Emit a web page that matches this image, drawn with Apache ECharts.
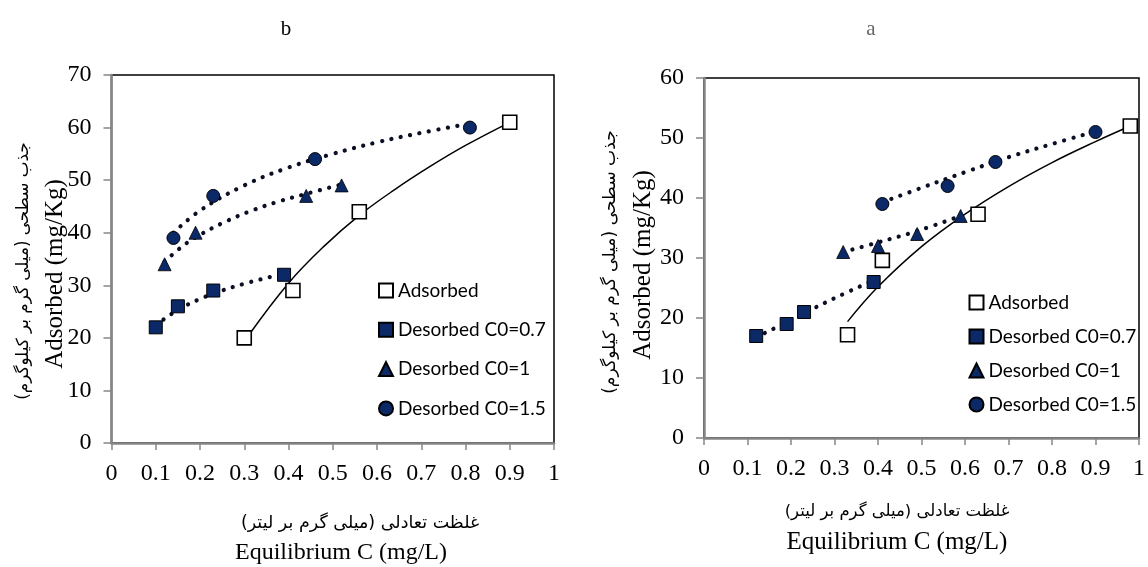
<!DOCTYPE html>
<html>
<head>
<meta charset="utf-8">
<script src="https://cdn.jsdelivr.net/npm/echarts@6/dist/echarts.min.js"></script>
<style>
  html, body { margin: 0; padding: 0; background: #fff; }
  #chart { width: 1148px; height: 567px; }
</style>
</head>
<body>
<div id="chart"></div>
<script>
// ---- panel b (left) ----
const bAdsorbed = [[0.3, 20], [0.41, 29], [0.56, 44], [0.9, 61]];
const bDes07 = [[0.1, 22], [0.15, 26], [0.23, 29], [0.39, 32]];
const bDes1 = [[0.12, 34], [0.19, 40], [0.44, 47], [0.52, 49]];
const bDes15 = [[0.14, 39], [0.23, 47], [0.46, 54], [0.81, 60]];
// trendlines
const bAdsorbedFit = [[0.31, 20.5], [0.4, 30.4], [0.48, 37.4], [0.56, 43.3], [0.64, 48.2], [0.72, 52.6], [0.8, 56.6], [0.9, 61]];
const bDes07Fit = [[0.1, 22.4], [0.15, 25.3], [0.2, 27.4], [0.25, 29], [0.3, 30.3], [0.35, 31.4], [0.39, 32.2]];
const bDes1Fit = [[0.12, 34.5], [0.16, 37.4], [0.2, 39.6], [0.26, 42.2], [0.32, 44.3], [0.38, 46], [0.44, 47.4], [0.52, 49.2]];
const bDes15Fit = [[0.14, 40], [0.2, 44.2], [0.3, 49], [0.4, 52.4], [0.5, 55], [0.6, 57.2], [0.7, 59], [0.8, 60.6]];

// ---- panel a (right) ----
const aAdsorbed = [[0.33, 17.2], [0.41, 29.6], [0.63, 37.3], [0.98, 52]];
const aDes07 = [[0.12, 17], [0.19, 19], [0.23, 21], [0.39, 26]];
const aDes1 = [[0.32, 31], [0.4, 32], [0.49, 34], [0.59, 37]];
const aDes15 = [[0.41, 39], [0.56, 42], [0.67, 46], [0.9, 51]];
const aAdsorbedFit = [[0.33, 19.4], [0.4, 25.2], [0.5, 31.9], [0.6, 37.3], [0.7, 41.9], [0.8, 45.9], [0.9, 49.4], [0.98, 52]];
const aDes07Fit = [[0.12, 16.8], [0.19, 19.3], [0.23, 20.8], [0.3, 23.3], [0.39, 26.3]];
const aDes1Fit = [[0.32, 31], [0.4, 32.6], [0.49, 34.5], [0.59, 37]];
const aDes15Fit = [[0.41, 39.3], [0.5, 41.7], [0.6, 44.3], [0.7, 46.8], [0.8, 49], [0.9, 51.1]];

const seriesNames = ['Adsorbed', 'Desorbed C0=0.7', 'Desorbed C0=1', 'Desorbed C0=1.5'];

const navy = '#0b2867';
const serif = 'Liberation Serif';
const arabic = 'DejaVu Sans';
const RLM = '\u200F';

const markerStyles = [
  { symbol: 'rect', symbolSize: 14, itemStyle: { color: '#fff', borderColor: '#000', borderWidth: 1.6, opacity: 1 } },
  { symbol: 'rect', symbolSize: 13, itemStyle: { color: navy, borderColor: '#000', borderWidth: 1, opacity: 1 } },
  { symbol: 'triangle', symbolSize: 13, itemStyle: { color: navy, borderColor: '#000', borderWidth: 0.8, opacity: 1 } },
  { symbol: 'circle', symbolSize: 13, itemStyle: { color: navy, borderColor: '#000', borderWidth: 1, opacity: 1 } }
];

function scatter(i, data, g) {
  return Object.assign({
    type: 'scatter', name: seriesNames[i], data: data,
    xAxisIndex: g, yAxisIndex: g, z: 5
  }, markerStyles[i]);
}
function fit(data, g, solid) {
  return {
    type: 'line', name: 'fit', data: data, xAxisIndex: g, yAxisIndex: g,
    smooth: 0.4, showSymbol: false, silent: true, z: 3,
    lineStyle: solid
      ? { color: '#000', width: 1.5 }
      : { color: '#0a0f24', width: 4.2, type: [0.1, 9.5], cap: 'round' }
  };
}
function xAxisOf(g) {
  return {
    type: 'value', gridIndex: g, min: 0, max: 1, interval: 0.1,
    axisLine: { lineStyle: { color: '#868686', width: 2.5 } },
    axisTick: { length: 7, lineStyle: { color: '#868686', width: 1.5 } },
    axisLabel: { color: '#000', fontFamily: serif, fontSize: 24, margin: 19,
      formatter: v => String(+v.toFixed(1)) },
    splitLine: { show: false }
  };
}
function yAxisOf(g, max) {
  return {
    type: 'value', gridIndex: g, min: 0, max: max, interval: 10,
    axisLine: { show: true, lineStyle: { color: '#868686', width: 2.5 } },
    axisTick: { show: true, length: 8, lineStyle: { color: '#868686', width: 1.5 } },
    axisLabel: { color: '#000', fontFamily: serif, fontSize: 24, margin: 20 },
    splitLine: { show: false }
  };
}
function legendOf(left, top, gap) {
  return {
    orient: 'vertical', left: left, top: top, itemWidth: 14, itemHeight: 14, itemGap: gap,
    padding: 0, data: seriesNames, selectedMode: false,
    textStyle: { color: '#000', fontFamily: 'Lato', fontSize: 19 }
  };
}
function text(x, y, str, font, size, rot, color) {
  return {
    type: 'text', x: x, y: y, rotation: rot || 0,
    style: { text: str, font: size + 'px "' + font + '"', fill: color || '#000',
      textAlign: 'center', textVerticalAlign: 'middle' }
  };
}

const yTitleFa = 'جذب سطحی (میلی گرم بر کیلوگرم)' + RLM;
const xTitleFa = 'غلظت تعادلی (میلی گرم بر لیتر)' + RLM;

const chart = echarts.init(document.getElementById('chart'), null, { renderer: 'canvas' });
chart.setOption({
  backgroundColor: '#fff',
  animation: false,
  grid: [
    { left: 111.5, top: 75, width: 442.5, height: 368, show: true, borderColor: '#000', borderWidth: 1.5 },
    { left: 704, top: 78, width: 437.5, height: 360, show: true, borderColor: '#000', borderWidth: 1.5 }
  ],
  xAxis: [xAxisOf(0), xAxisOf(1)],
  yAxis: [yAxisOf(0, 70), yAxisOf(1, 60)],
  legend: [legendOf(378, 281, 20.3), legendOf(968.5, 293, 15)],
  series: [
    fit(bAdsorbedFit, 0, true), fit(bDes07Fit, 0), fit(bDes1Fit, 0), fit(bDes15Fit, 0),
    scatter(0, bAdsorbed, 0), scatter(1, bDes07, 0), scatter(2, bDes1, 0), scatter(3, bDes15, 0),
    fit(aAdsorbedFit, 1, true), fit(aDes07Fit, 1), fit(aDes1Fit, 1), fit(aDes15Fit, 1),
    scatter(0, aAdsorbed, 1), scatter(1, aDes07, 1), scatter(2, aDes1, 1), scatter(3, aDes15, 1)
  ],
  graphic: [
    text(286, 29, 'b', serif, 21),
    text(871, 29, 'a', serif, 21, 0, '#666'),
    text(24, 271, yTitleFa, arabic, 16.8, Math.PI / 2),
    text(55, 274, 'Adsorbed (mg/Kg)', serif, 25, Math.PI / 2),
    text(611, 262, yTitleFa, arabic, 17.2, Math.PI / 2),
    text(643, 265, 'Adsorbed (mg/Kg)', serif, 25, Math.PI / 2),
    text(360, 523, xTitleFa, arabic, 17.5),
    text(341, 553, 'Equilibrium C (mg/L)', serif, 24),
    text(897, 512, xTitleFa, arabic, 16.5),
    text(897, 542, 'Equilibrium C (mg/L)', serif, 25)
  ]
});
</script>
</body>
</html>
